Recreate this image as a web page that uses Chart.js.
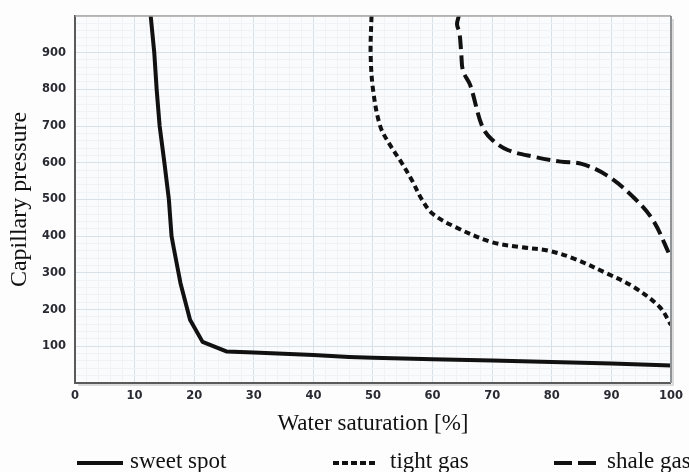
<!DOCTYPE html>
<html><head><meta charset="utf-8">
<script src="https://cdn.jsdelivr.net/npm/chart.js@4"></script>
<style>
html,body{margin:0;padding:0;background:#fdfdfe;}
#wrap{position:relative;width:689px;height:472px;overflow:hidden;}
#c{position:absolute;left:0;top:0;}
#legend{position:absolute;left:0;top:0;pointer-events:none;}
</style></head><body>
<div id="wrap">
<canvas id="c"></canvas>
<svg id="legend" width="689" height="472" xmlns="http://www.w3.org/2000/svg">
  <line x1="77" y1="463" x2="123" y2="463" stroke="#111" stroke-width="4"/>
  <text x="130" y="468" font-family="Liberation Serif" font-size="23" fill="#111">sweet spot</text>
  <line x1="333" y1="463" x2="377" y2="463" stroke="#111" stroke-width="4" stroke-dasharray="6 3"/>
  <text x="390" y="468" font-family="Liberation Serif" font-size="23" fill="#111">tight gas</text>
  <line x1="554" y1="463" x2="596" y2="463" stroke="#111" stroke-width="4" stroke-dasharray="18 6"/>
  <text x="607" y="468" font-family="Liberation Serif" font-size="23" fill="#111">shale gas</text>
</svg>
</div>
<script>
// ---- data ----
const sweetX = [12.7,13.3,13.7,14.2,15.0,15.75,16.2,16.6,17.7,19.3,21.4,25.4,30,40,46,50,60,70,80,90,100];
const sweetY = [1000,900,800,700,600,500,400,365,272,172,112,86,83,76,71,69,65,61,57,53,48];
const tightX = [49.75,49.6,50.0,51.2,52.8,54.8,56.6,58.2,60.0,63.8,69.9,74.9,79.3,83.7,89.3,93.7,98.1,100];
const tightY = [1000,900,800,700,650,600,550,500,461,425,384,370,361,339,298,262,207,158];
const shaleX = [64.4,64.1,64.5,64.8,65.1,66.3,68.3,69.9,72.7,77.1,81.5,85.0,89.3,93.7,97.0,99.8];
const shaleY = [1000,977,955,900,850,812,700,664,634,616,603,597,565,506,443,348];
const seriesNames = ['sweet spot','tight gas','shale gas'];
const xTicksMajor = 10, xTicksMinor = 2;
const yTicksMajor = 100, yTicksMinor = 20;

const toPts = (xs, ys) => xs.map((x, i) => ({x, y: ys[i]}));

const MAJOR = '#d8e1e7', MINOR = '#f0f3f6';

const frame = {
  id: 'frame',
  beforeDraw(chart) {
    const {ctx, chartArea: a} = chart;
    ctx.save();
    ctx.fillStyle = '#fafbfd';
    ctx.fillRect(a.left, a.top, a.right - a.left, a.bottom - a.top);
    ctx.restore();
  },
  afterDraw(chart) {
    const {ctx, chartArea: a} = chart;
    ctx.save();
    ctx.strokeStyle = 'rgba(120,120,120,0.25)';
    ctx.lineWidth = 2;
    ctx.beginPath();
    ctx.moveTo(a.right + 2, a.top + 3);
    ctx.lineTo(a.right + 2, a.bottom + 2);
    ctx.lineTo(a.left + 3, a.bottom + 2);
    ctx.stroke();
    ctx.strokeStyle = '#a9a3a0';
    ctx.lineWidth = 1.5;
    ctx.beginPath();
    ctx.moveTo(a.left, a.top);
    ctx.lineTo(a.right, a.top);
    ctx.stroke();
    ctx.strokeStyle = '#8f9396';
    ctx.lineWidth = 2;
    ctx.beginPath();
    ctx.moveTo(a.right, a.top);
    ctx.lineTo(a.right, a.bottom);
    ctx.stroke();
    ctx.restore();
  }
};

const common = {
  borderColor: '#111',
  borderWidth: 4,
  pointRadius: 0,
  fill: false,
  borderCapStyle: 'butt',
  borderJoinStyle: 'round'
};

const tickFont = {family: 'DejaVu Sans', size: 11.5, weight: 'bold'};

new Chart(document.getElementById('c'), {
  type: 'line',
  data: {
    datasets: [
      Object.assign({label: seriesNames[0], data: toPts(sweetX, sweetY), tension: 0}, common),
      Object.assign({label: seriesNames[1], data: toPts(tightX, tightY), tension: 0.35, borderDash: [6, 4]}, common),
      Object.assign({label: seriesNames[2], data: toPts(shaleX, shaleY), tension: 0.35, borderDash: [14, 6]}, common)
    ]
  },
  options: {
    responsive: true,
    maintainAspectRatio: false,
    animation: false,
    layout: {padding: {top: 15, right: 11, left: 0, bottom: 0}},
    plugins: {legend: {display: false}, tooltip: {enabled: false}},
    scales: {
      x: {
        type: 'linear', min: 0, max: 100,
        afterFit(s) { s.height = 89; },
        ticks: {
          stepSize: xTicksMinor, maxTicksLimit: 1000, autoSkip: false, maxRotation: 0,
          padding: 6, color: '#2a2a33', font: tickFont,
          callback: v => (Math.round(v) % xTicksMajor === 0 ? String(v) : '')
        },
        grid: {
          drawTicks: false,
          color: c => (c.tick && Math.round(c.tick.value) % xTicksMajor === 0 ? MAJOR : MINOR),
          lineWidth: 1
        },
        border: {color: '#5a5a5a', width: 2},
        title: {
          display: true, text: 'Water saturation [%]', color: '#111',
          font: {family: 'Liberation Serif', size: 23, weight: 'normal'},
          padding: {top: 0, bottom: 34}
        }
      },
      y: {
        type: 'linear', min: 0, max: 1000,
        afterFit(s) { s.width = 75; },
        ticks: {
          stepSize: yTicksMinor, maxTicksLimit: 1000, autoSkip: false,
          padding: 9, color: '#2a2a33', font: tickFont,
          callback: v => (Math.round(v) % yTicksMajor === 0 && v > 0 && v < 1000 ? String(v) : '')
        },
        grid: {
          drawTicks: false,
          color: c => (c.tick && Math.round(c.tick.value) % yTicksMajor === 0 ? MAJOR : MINOR),
          lineWidth: 1
        },
        border: {color: '#5a5a5a', width: 2},
        title: {
          display: true, text: 'Capillary pressure', color: '#111',
          font: {family: 'Liberation Serif', size: 24, weight: 'normal'},
          padding: {top: 5, bottom: 0}
        }
      }
    }
  },
  plugins: [frame]
});
</script>
</body></html>
